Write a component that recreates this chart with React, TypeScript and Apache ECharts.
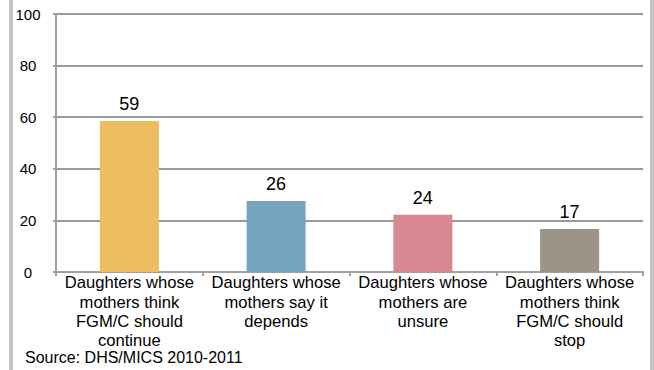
import React, { useEffect, useRef } from "react";
import * as echarts from "echarts";

const categories = [
  "Daughters whose\nmothers think\nFGM/C should\ncontinue",
  "Daughters whose\nmothers say it\ndepends",
  "Daughters whose\nmothers are\nunsure",
  "Daughters whose\nmothers think\nFGM/C should\nstop",
];
const barHeights = [58.5, 27.5, 22.2, 16.7];
const valueLabels = ["59", "26", "24", "17"];
const barColors = ["#EDBD5F", "#77A4BE", "#D98790", "#9C9488"];
const yTicks = [0, 20, 40, 60, 80, 100];
const sourceText = "Source: DHS/MICS 2010-2011";

const FONT = "'Liberation Sans', Arial, sans-serif";

export default function App() {
  const ref = useRef<HTMLDivElement>(null);
  useEffect(() => {
    document.body.style.margin = "0";
    const chart = echarts.init(ref.current!, null, { renderer: "svg" });
    chart.setOption({
      animation: false,
      backgroundColor: "#ffffff",
      textStyle: { fontFamily: FONT },
      grid: { left: 56, right: 11, top: 14, bottom: 98, containLabel: false },
      xAxis: {
        type: "category",
        data: categories,
        axisLine: { show: true, lineStyle: { color: "#A0A0A0", width: 2 } },
        axisTick: { show: true, alignWithLabel: false, length: 4, lineStyle: { color: "#A0A0A0", width: 2 } },
        axisLabel: {
          interval: 0,
          margin: 1,
          color: "#000",
          fontSize: 16.6,
          lineHeight: 19.4,
          fontFamily: FONT,
        },
      },
      yAxis: {
        type: "value",
        min: yTicks[0],
        max: yTicks[yTicks.length - 1],
        interval: 20,
        axisLine: { show: true, lineStyle: { color: "#A0A0A0", width: 2 } },
        axisTick: { show: true, length: 3, lineStyle: { color: "#A0A0A0", width: 2 } },
        splitLine: { show: true, lineStyle: { color: "#999999", width: 2 } },
        axisLabel: {
          margin: 28,
          align: "center",
          color: "#000",
          fontSize: 15,
          fontFamily: FONT,
          padding: [4, 0, 0, 0],
        },
      },
      series: [
        {
          type: "bar",
          barWidth: 59,
          data: barHeights.map((v, i) => ({
            value: v,
            itemStyle: { color: barColors[i] },
          })),
          label: {
            show: true,
            position: "top",
            distance: 8,
            color: "#000",
            fontSize: 18,
            fontFamily: FONT,
            formatter: (p: any) => valueLabels[p.dataIndex],
          },
        },
      ],
      graphic: [
        { type: "rect", left: 9, top: 0, shape: { width: 4, height: 370 }, style: { fill: "#C4C4C4" } },
        { type: "rect", left: 650, top: 0, shape: { width: 4, height: 370 }, style: { fill: "#C4C4C4" } },
        {
          type: "text",
          left: 25,
          top: 349,
          style: { text: sourceText, fill: "#000", font: `16px ${FONT}` },
        },
      ],
    });
    return () => chart.dispose();
  }, []);
  return (
    <div
      ref={ref}
      style={{ position: "absolute", left: 0, top: 0, width: 654, height: 370 }}
    />
  );
}
